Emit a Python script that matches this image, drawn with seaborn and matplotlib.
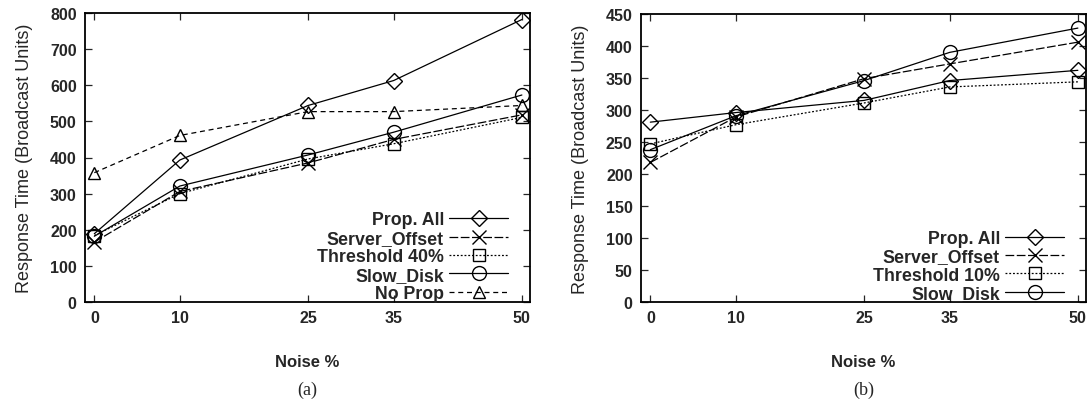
import numpy as np
import pandas as pd
import matplotlib
matplotlib.use("Agg")
import matplotlib.pyplot as plt
import seaborn as sns

noise = [0, 10, 25, 35, 50]

# Panel (a)
a_prop_all = [189, 393, 544, 613, 782]
a_server_offset = [166, 306, 385, 450, 518]
a_threshold40 = [184, 300, 396, 438, 511]
a_slow_disk = [182, 321, 407, 470, 573]
a_no_prop = [358, 461, 527, 527, 544]

# Panel (b)
b_prop_all = [281, 296, 315, 346, 362]
b_server_offset = [218, 289, 349, 372, 406]
b_threshold10 = [247, 277, 311, 336, 344]
b_slow_disk = [238, 291, 346, 390, 428]

a_yticks = [0, 100, 200, 300, 400, 500, 600, 700, 800]
b_yticks = [0, 50, 100, 150, 200, 250, 300, 350, 400, 450]

sns.set_style("ticks")
plt.rcParams["font.family"] = ["Liberation Sans", "DejaVu Sans"]
plt.rcParams["xtick.direction"] = "in"
plt.rcParams["ytick.direction"] = "in"
plt.rcParams["xtick.top"] = True
plt.rcParams["ytick.right"] = True

fig = plt.figure(figsize=(10.87, 4.02), dpi=100)
W, H = 1087, 402
ax1 = fig.add_axes([85 / W, 1 - 303 / H, 445 / W, 289 / H])
ax2 = fig.add_axes([641 / W, 1 - 303 / H, 445 / W, 288 / H])

styles = {
    "Prop. All": dict(marker="D", ls="-", ms=8.5),
    "Server_Offset": dict(marker="x", ls=(0, (7, 2)), ms=10),
    "Threshold": dict(marker="s", ls=(0, (1.5, 1.5)), ms=9),
    "Slow_Disk": dict(marker="o", ls="-", ms=10),
    "No Prop": dict(marker="^", ls=(0, (4, 3)), ms=8.5),
}

def draw(ax, series, yticks, ylim):
    for label, key, vals in series:
        st = styles[key]
        sns.lineplot(x=noise, y=vals, ax=ax, color="black", lw=0.9,
                     linestyle=st["ls"], marker=st["marker"], markersize=st["ms"],
                     markerfacecolor="none", markeredgecolor="black",
                     markeredgewidth=1.0, label=label)
    ax.set_xticks(noise)
    ax.set_yticks(yticks)
    ax.set_xlim(-1.09, 50.95)
    ax.set_ylim(*ylim)
    ax.tick_params(axis="both", labelsize=11.5, length=5, width=0.9, pad=6)
    for lbl in ax.get_xticklabels() + ax.get_yticklabels():
        lbl.set_fontweight("bold")
    for sp in ax.spines.values():
        sp.set_linewidth(1.3)
        sp.set_color("black")
    ax.set_xlabel("Noise %", fontsize=12, fontweight="bold", labelpad=21)
    ax.set_ylabel("Response Time (Broadcast Units)", fontsize=13, labelpad=12)
    ax.legend(loc="lower right", bbox_to_anchor=(1 - 22 / 445, 0.0),
              markerfirst=False, frameon=False,
              prop=dict(size=12.8, weight="bold"),
              handlelength=3.3, handletextpad=0.3,
              labelspacing=0.08, borderaxespad=0.0, borderpad=0.0)

draw(ax1, [("Prop. All", "Prop. All", a_prop_all),
           ("Server_Offset", "Server_Offset", a_server_offset),
           ("Threshold 40%", "Threshold", a_threshold40),
           ("Slow_Disk", "Slow_Disk", a_slow_disk),
           ("No Prop", "No Prop", a_no_prop)], a_yticks, (0, 800))
draw(ax2, [("Prop. All", "Prop. All", b_prop_all),
           ("Server_Offset", "Server_Offset", b_server_offset),
           ("Threshold 10%", "Threshold", b_threshold10),
           ("Slow_Disk", "Slow_Disk", b_slow_disk)], b_yticks, (0, 450))

fig.text((85 + 445 / 2) / W, 1 - 390 / H, "(a)", ha="center", va="center",
         fontsize=13, family=["Liberation Serif", "DejaVu Serif"])
fig.text((641 + 445 / 2) / W, 1 - 390 / H, "(b)", ha="center", va="center",
         fontsize=13, family=["Liberation Serif", "DejaVu Serif"])

fig.savefig("out.png", dpi=100, facecolor="white")
